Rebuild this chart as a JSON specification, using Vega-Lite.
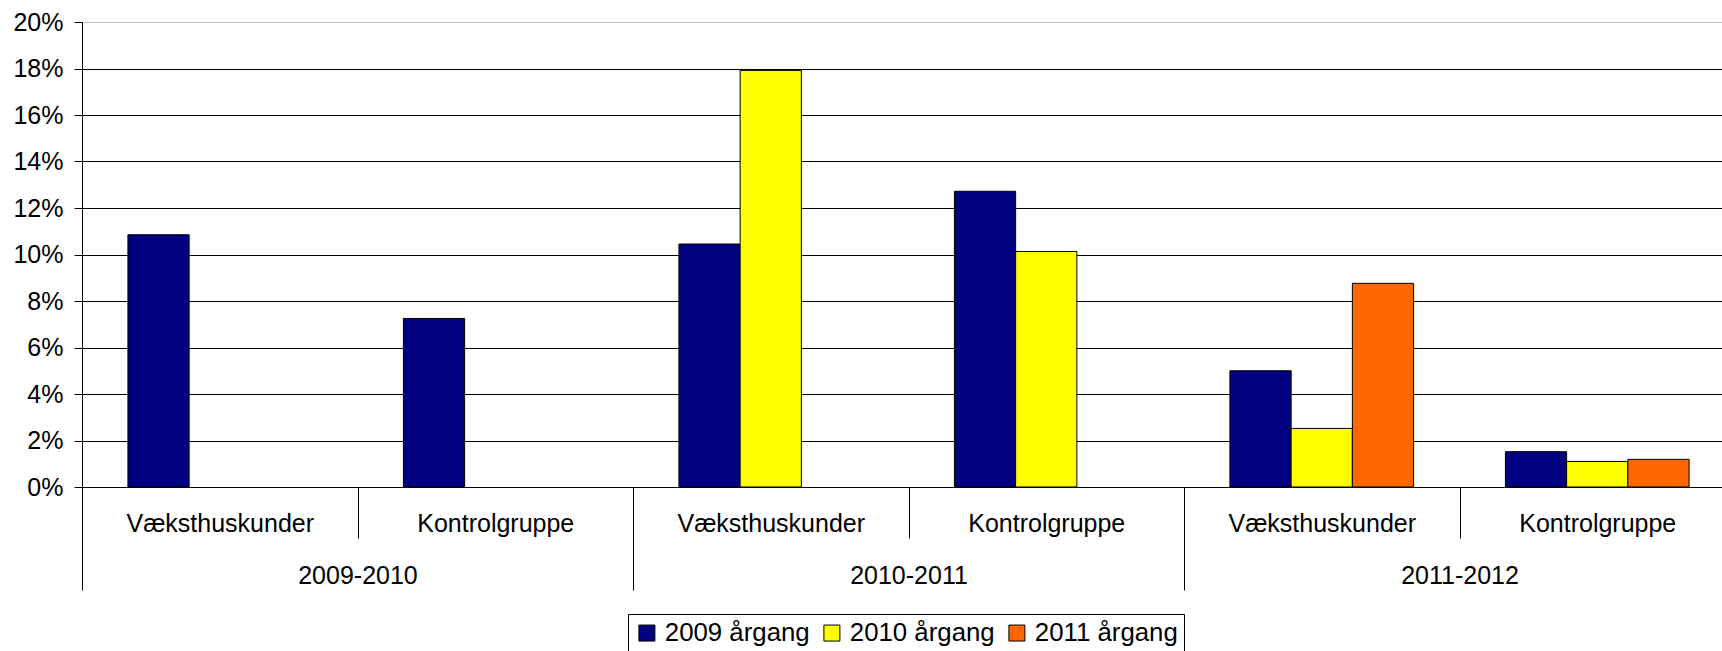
{
  "$schema": "https://vega.github.io/schema/vega-lite/v6.json",
  "width": 1640,
  "height": 465,
  "autosize": {"type": "none"},
  "padding": {"left": 82, "top": 22, "right": 0, "bottom": 164},
  "background": "white",
  "config": {
    "view": {"stroke": null},
    "font": "Liberation Sans",
    "axis": {"labelFont": "Liberation Sans", "labelColor": "black", "tickColor": "black", "domainColor": "black", "tickWidth": 1, "domainWidth": 1}
  },
  "data": {
    "values": [
      {"period": "2009-2010", "group": "Væksthuskunder", "series": "2009 årgang", "value": 0.1085},
      {"period": "2009-2010", "group": "Kontrolgruppe", "series": "2009 årgang", "value": 0.0725},
      {"period": "2010-2011", "group": "Væksthuskunder", "series": "2009 årgang", "value": 0.1045},
      {"period": "2010-2011", "group": "Væksthuskunder", "series": "2010 årgang", "value": 0.1792},
      {"period": "2010-2011", "group": "Kontrolgruppe", "series": "2009 årgang", "value": 0.1272},
      {"period": "2010-2011", "group": "Kontrolgruppe", "series": "2010 årgang", "value": 0.1013},
      {"period": "2011-2012", "group": "Væksthuskunder", "series": "2009 årgang", "value": 0.050},
      {"period": "2011-2012", "group": "Væksthuskunder", "series": "2010 årgang", "value": 0.0252},
      {"period": "2011-2012", "group": "Væksthuskunder", "series": "2011 årgang", "value": 0.0876},
      {"period": "2011-2012", "group": "Kontrolgruppe", "series": "2009 årgang", "value": 0.0152},
      {"period": "2011-2012", "group": "Kontrolgruppe", "series": "2010 årgang", "value": 0.011},
      {"period": "2011-2012", "group": "Kontrolgruppe", "series": "2011 årgang", "value": 0.0119}
    ]
  },
  "transform": [{"calculate": "datum.period + '|' + datum.group", "as": "cat"}],
  "layer": [
    {
      "mark": {"type": "bar", "stroke": "black", "strokeWidth": 1},
      "encoding": {
        "x": {
          "field": "cat",
          "type": "nominal",
          "sort": null,
          "scale": {
            "domain": ["2009-2010|Væksthuskunder", "2009-2010|Kontrolgruppe", "2010-2011|Væksthuskunder", "2010-2011|Kontrolgruppe", "2011-2012|Væksthuskunder", "2011-2012|Kontrolgruppe"],
            "range": [0, 1653],
            "paddingInner": 0,
            "paddingOuter": 0
          },
          "axis": {
            "orient": "bottom",
            "title": null,
            "labelExpr": "split(datum.label, '|')[1]",
            "tickBand": "extent",
            "tickSize": 51,
            "labelPadding": -7,
            "labelBaseline": "alphabetic",
            "labelFontSize": 25,
            "labelAngle": 0,
            "labelLimit": 0,
            "labelOverlap": false,
            "grid": false
          }
        },
        "xOffset": {
          "field": "series",
          "type": "nominal",
          "scale": {"domain": ["2009 årgang", "2010 årgang", "2011 årgang"], "paddingInner": 0, "paddingOuter": 0.75}
        },
        "y": {
          "field": "value",
          "type": "quantitative",
          "scale": {"domain": [0, 0.2], "nice": false},
          "axis": {
            "title": null,
            "values": [0, 0.02, 0.04, 0.06, 0.08, 0.1, 0.12, 0.14, 0.16, 0.18, 0.2],
            "format": ".0%",
            "grid": true,
            "gridColor": {"condition": {"test": "datum.value >= 0.199", "value": "#c0c0c0"}, "value": "black"},
            "gridWidth": 1,
            "tickSize": 8,
            "labelFontSize": 25,
            "labelPadding": 11
          }
        },
        "color": {
          "field": "series",
          "type": "nominal",
          "scale": {"domain": ["2009 årgang", "2010 årgang", "2011 årgang"], "range": ["#000080", "#FFFF00", "#FF6600"]},
          "legend": {
            "title": null,
            "orient": "none",
            "legendX": 546,
            "legendY": 592,
            "direction": "horizontal",
            "strokeColor": "black",
            "fillColor": "white",
            "padding": 6,
            "symbolType": "square",
            "symbolSize": 256,
            "symbolStrokeColor": "black",
            "symbolStrokeWidth": 1,
            "symbolOpacity": 1,
            "labelFontSize": 25.8,
            "labelFont": "Liberation Sans",
            "labelColor": "black",
            "labelLimit": 0,
            "labelOffset": 5,
            "columnPadding": 9
          }
        }
      }
    },
    {
      "mark": {"type": "rule", "opacity": 0},
      "encoding": {
        "x": {
          "field": "period",
          "type": "nominal",
          "sort": null,
          "scale": {"domain": ["2009-2010", "2010-2011", "2011-2012"], "range": [0, 1653], "paddingInner": 0, "paddingOuter": 0},
          "axis": {
            "orient": "bottom",
            "title": null,
            "tickBand": "extent",
            "tickSize": 103,
            "labelPadding": -7,
            "labelBaseline": "alphabetic",
            "labelFontSize": 25,
            "labelAngle": 0,
            "labelLimit": 0,
            "labelOverlap": false,
            "grid": false
          }
        }
      }
    }
  ],
  "resolve": {"scale": {"x": "independent"}, "axis": {"x": "independent"}}
}
